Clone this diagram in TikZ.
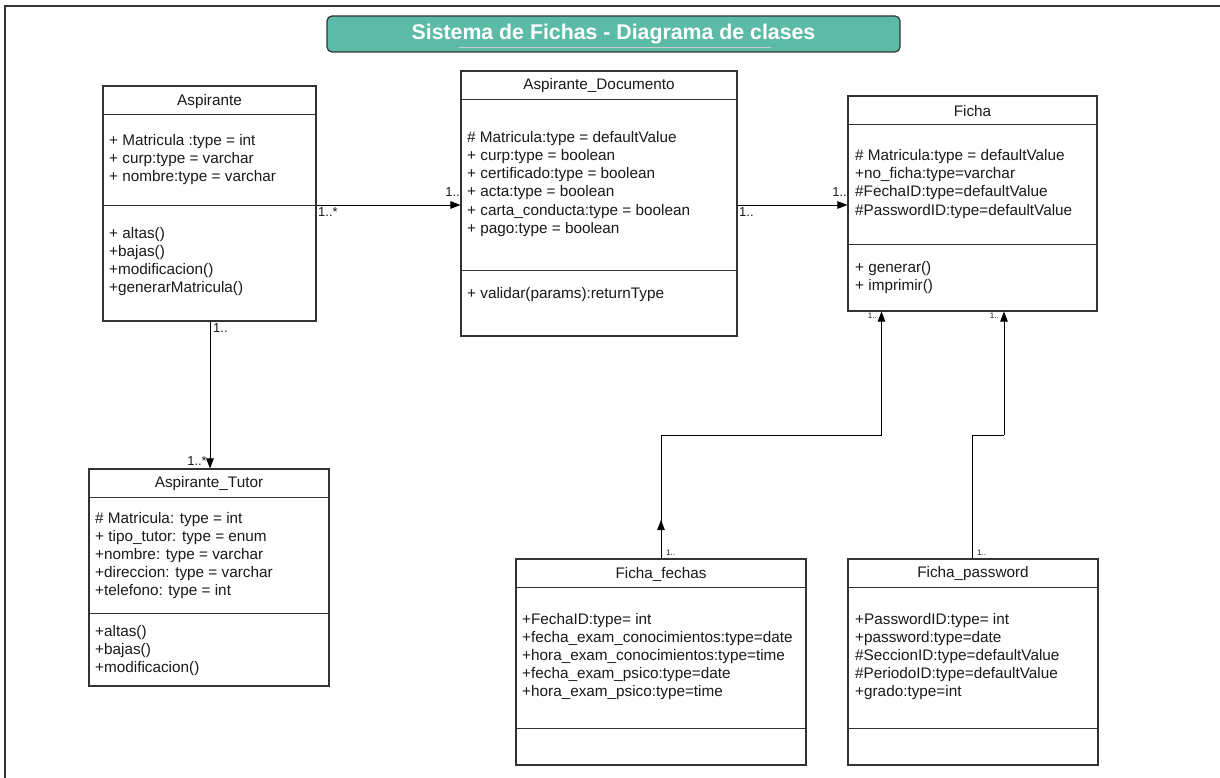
\documentclass[tikz,border=0pt]{standalone}
\usepackage{fontspec}
\setmainfont{Liberation Sans}
\usetikzlibrary{arrows.meta}
\definecolor{teal1}{HTML}{5CBBA7}
\definecolor{bord}{HTML}{333333}
\definecolor{txt}{HTML}{1A1A1A}
\begin{document}
\begin{tikzpicture}[x=1pt,y=-1pt,
 cls/.style={draw=bord, line width=1.1pt, fill=white, inner sep=0},
 sep/.style={draw=bord, line width=0.9pt},
 attr/.style={anchor=west, inner sep=0, yshift=-2pt, font=\fontsize{15.3}{18}\selectfont, text=txt},
 hdr/.style={inner sep=0, yshift=-2pt, font=\fontsize{15.3}{18}\selectfont, text=txt},
 conn/.style={draw=black, line width=0.9pt, -{Triangle[length=10pt,width=7.5pt]}},
 plain/.style={draw=black, line width=0.9pt},
 mult/.style={inner sep=0, font=\fontsize{13}{15}\selectfont, text=txt},
 tinym/.style={inner sep=0, font=\fontsize{8}{9}\selectfont, text=txt}]
\useasboundingbox (0,0) rectangle (1220,778);
\fill[white] (0,0) rectangle (1220,778);
% frame
\draw[draw=bord, line width=1.5pt] (5,778) -- (5,6) -- (1220,6);
% title
\node[draw=bord, line width=1.2pt, fill=teal1, rounded corners=5pt, minimum width=573pt, minimum height=36pt, inner sep=0] (title) at (613.5,34) {};
\node[inner sep=0, font=\bfseries\fontsize{21.3}{24}\selectfont, text=white] (titletext) at (613.5,34) {Sistema de Fichas - Diagrama de clases};
\draw[gray!40, line width=0.8pt] (459,47) -- (771,47);

% Aspirante
\node[cls, minimum width=213pt, minimum height=235pt] (asp) at (209.5,203.5) {};
\draw[sep] (asp.west |- 0,114) -- (asp.east |- 0,114);
\draw[sep] (asp.west |- 0,205) -- (asp.east |- 0,205);
\node[hdr] (aspH) at (209.5,100) {Aspirante};
\node[attr] (asp1) at (109,140) {+ Matricula :type = int};
\node[attr] (asp2) at (109,158) {+ curp:type = varchar};
\node[attr] (asp3) at (109,176) {+ nombre:type = varchar};
\node[attr] (asp4) at (109,233) {+ altas()};
\node[attr] (asp5) at (109,251) {+bajas()};
\node[attr] (asp6) at (109,269) {+modificacion()};
\node[attr] (asp7) at (109,287) {+generarMatricula()};

% Aspirante_Documento
\node[cls, minimum width=276pt, minimum height=265pt] (doc) at (599,203.5) {};
\draw[sep] (doc.west |- 0,99) -- (doc.east |- 0,99);
\draw[sep] (doc.west |- 0,270) -- (doc.east |- 0,270);
\node[hdr] (docH) at (599,84) {Aspirante\_Documento};
\node[attr] (doc1) at (467,137) {\# Matricula:type = defaultValue};
\node[attr] (doc2) at (467,155) {+ curp:type = boolean};
\node[attr] (doc3) at (467,173) {+ certificado:type = boolean};
\node[attr] (doc4) at (467,191) {+ acta:type = boolean};
\node[attr] (doc5) at (467,210) {+ carta\_conducta:type = boolean};
\node[attr] (doc6) at (467,228) {+ pago:type = boolean};
\node[attr] (doc7) at (467,293) {+ validar(params):returnType};

% Ficha
\node[cls, minimum width=249pt, minimum height=215pt] (fic) at (972.5,203.5) {};
\draw[sep] (fic.west |- 0,124) -- (fic.east |- 0,124);
\draw[sep] (fic.west |- 0,244) -- (fic.east |- 0,244);
\node[hdr] (ficH) at (972.5,109) {Ficha};
\node[attr] (fic1) at (855,155) {\# Matricula:type = defaultValue};
\node[attr] (fic2) at (855,173) {+no\_ficha:type=varchar};
\node[attr] (fic3) at (855,191) {\#FechaID:type=defaultValue};
\node[attr] (fic4) at (855,210) {\#PasswordID:type=defaultValue};
\node[attr] (fic5) at (855,267) {+ generar()};
\node[attr] (fic6) at (855,285) {+ imprimir()};

% Aspirante_Tutor
\node[cls, minimum width=240pt, minimum height=217pt] (tut) at (209,577.5) {};
\draw[sep] (tut.west |- 0,497) -- (tut.east |- 0,497);
\draw[sep] (tut.west |- 0,613) -- (tut.east |- 0,613);
\node[hdr] (tutH) at (209,482) {Aspirante\_Tutor};
\node[attr] (tut1) at (95,518) {\# Matricula: type = int};
\node[attr] (tut2) at (95,536) {+ tipo\_tutor: type = enum};
\node[attr] (tut3) at (95,554) {+nombre: type = varchar};
\node[attr] (tut4) at (95,572) {+direccion: type = varchar};
\node[attr] (tut5) at (95,590) {+telefono: type = int};
\node[attr] (tut6) at (95,631) {+altas()};
\node[attr] (tut7) at (95,649) {+bajas()};
\node[attr] (tut8) at (95,667) {+modificacion()};

% Ficha_fechas
\node[cls, minimum width=290pt, minimum height=206pt] (ffe) at (661,662) {};
\draw[sep] (ffe.west |- 0,587) -- (ffe.east |- 0,587);
\draw[sep] (ffe.west |- 0,728) -- (ffe.east |- 0,728);
\node[hdr] (ffeH) at (661,572) {Ficha\_fechas};
\node[attr] (ffe1) at (522,619) {+FechaID:type= int};
\node[attr] (ffe2) at (522,637) {+fecha\_exam\_conocimientos:type=date};
\node[attr] (ffe3) at (522,655) {+hora\_exam\_conocimientos:type=time};
\node[attr] (ffe4) at (522,673) {+fecha\_exam\_psico:type=date};
\node[attr] (ffe5) at (522,691) {+hora\_exam\_psico:type=time};

% Ficha_password
\node[cls, minimum width=250pt, minimum height=206pt] (fpw) at (973,662) {};
\draw[sep] (fpw.west |- 0,587) -- (fpw.east |- 0,587);
\draw[sep] (fpw.west |- 0,728) -- (fpw.east |- 0,728);
\node[hdr] (fpwH) at (973,572) {Ficha\_password};
\node[attr] (fpw1) at (855,619) {+PasswordID:type= int};
\node[attr] (fpw2) at (855,637) {+password:type=date};
\node[attr] (fpw3) at (855,655) {\#SeccionID:type=defaultValue};
\node[attr] (fpw4) at (855,673) {\#PeriodoID:type=defaultValue};
\node[attr] (fpw5) at (855,691) {+grado:type=int};

% connectors
\draw[conn] (asp.east |- 0,205) -- (doc.west |- 0,205);
\node[mult, anchor=north west] (m1) at (318,207) {1..*};
\node[mult, anchor=south east] (m2) at (460,197) {1..};

\draw[conn] (doc.east |- 0,205) -- (fic.west |- 0,205);
\node[mult, anchor=north west] (m3) at (739,207) {1..};
\node[mult, anchor=south east] (m4) at (847,197) {1..};

\draw[conn] (asp.south -| 210,0) -- (tut.north -| 210,0);
\node[mult, anchor=north west] (m5) at (213,323) {1..};
\node[mult, anchor=south east] (m6) at (207,466) {1..*};

\coordinate (c1) at (661,435);
\coordinate (c2) at (881.5,435);
\coordinate (mid) at (661,520);
\draw[plain] (ffe.north -| 661,0) -- (c1) -- (c2);
\draw[conn] (c2) -- (fic.south -| c2);
\draw[conn] (ffe.north -| 661,0) -- (mid);
\node[tinym, anchor=south west] (m7) at (666,556) {1..};
\node[tinym, anchor=north east] (m8) at (877,313) {1..};

\coordinate (d1) at (972.5,435);
\coordinate (d2) at (1004,435);
\draw[plain] (fpw.north -| d1) -- (d1) -- (d2);
\draw[conn] (d2) -- (fic.south -| d2);
\node[tinym, anchor=south west] (m9) at (977,556) {1..};
\node[tinym, anchor=north east] (m10) at (999,313) {1..};
\end{tikzpicture}
\end{document}
